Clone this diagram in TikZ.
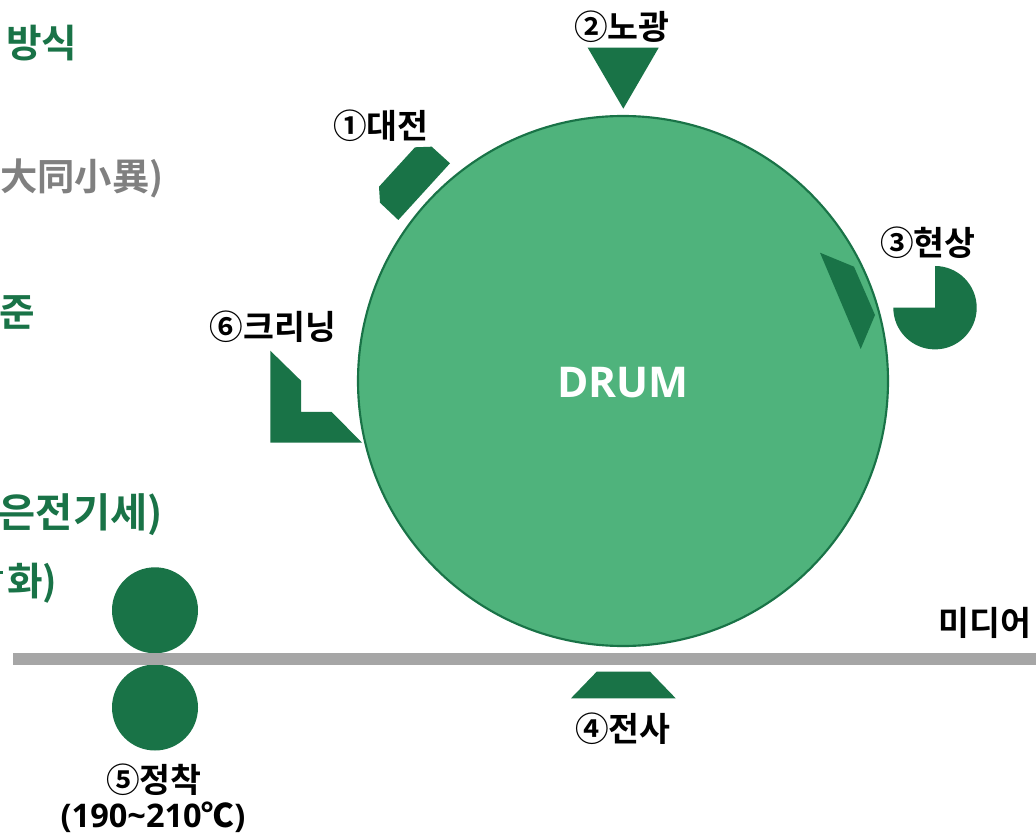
\documentclass[tikz,border=0pt]{standalone}
\usepackage{fontspec}
\setmainfont{Noto Sans CJK KR Bold}
\newfontfamily\latinfont{Open Sans}[BoldFont={* Bold}]
\definecolor{dkgreen}{HTML}{197347}
\definecolor{drumgreen}{HTML}{4FB37C}
\definecolor{mediagray}{HTML}{A6A6A6}
\definecolor{hanjagray}{HTML}{808080}
\tikzset{
  x=0.75pt,y=-0.75pt,
  part/.style={fill=dkgreen,draw=none},
  lab/.style={text=black,font=\fontsize{25.2pt}{27pt}\selectfont,inner sep=0pt,align=center},
  side/.style={text=dkgreen,font=\fontsize{29pt}{31pt}\selectfont,inner sep=0pt,anchor=west},
}
\begin{document}
\begin{tikzpicture}
\useasboundingbox (0,0) rectangle (1036,834);
\clip (0,0) rectangle (1036,834);
\fill[white] (0,0) rectangle (1036,834);
% side text (cropped at the left edge)
\node[side] (t1) at (6,43) {방식};
\node[side,text=hanjagray,font=\fontsize{28pt}{30pt}\selectfont] (t2) at (0,178) {大同小異)};
\node[side] (t3) at (-1,312) {준};
\node[side,font=\fontsize{30.3pt}{32pt}\selectfont] (t4) at (-1.5,515) {은전기세)};
\node[side] (t5) at (7,583) {화)};
\fill[dkgreen] (0,571) rectangle (2.6,574);
% drum
\node[circle,draw=dkgreen,fill=drumgreen,line width=1.6pt,minimum size=397.5pt,inner sep=0pt] (drum) at (623,381) {};
\node[text=white,inner sep=0pt,font=\latinfont\bfseries\fontsize{31.8pt}{33pt}\selectfont] (drumlabel) at (623,383) {DRUM};
% rollers
\node[circle,part,minimum size=64.5pt,inner sep=0pt] (r1) at (155,610.3) {};
\node[circle,part,minimum size=64.5pt,inner sep=0pt] (r2) at (155,707.5) {};
% media
\fill[mediagray] (13.3,652.7) rectangle (1036,665);
% parts
\fill[part] (415,147.3) -- (431.7,146.7) -- (450,163.3) -- (398.3,220) -- (380,202.7) -- (379,186.7) -- cycle;
\fill[part] (587.7,47.7) -- (658.7,47.7) -- (623.3,108.7) -- cycle;
\fill[part] (820,252.7) -- (854,266.7) -- (875,315) -- (860.7,349) -- cycle;
\fill[part] (935,307.7) -- (935,266) arc[start angle=90,end angle=-180,x radius=41.7,y radius=-41.7] -- cycle;
\fill[part] (270.3,350.7) -- (301,380.7) -- (301,412) -- (331.7,412) -- (362,442.7) -- (270.3,442.7) -- cycle;
\fill[part] (596.7,671.7) -- (650,671.7) -- (675.7,698.3) -- (571,698.3) -- cycle;
% labels
\node[lab] (l1) at (381,126) {①대전};
\node[lab] (l2) at (622,27) {②노광};
\node[lab] (l3) at (928,243) {③현상};
\node[lab] (l4) at (623,729) {④전사};
\node[lab] (l5) at (154,780) {⑤정착};
\node[lab,font=\latinfont\bfseries\fontsize{24.4pt}{26pt}\selectfont] (l5b) at (153,817.5) {(190\textasciitilde 210{\fontspec{Noto Sans CJK KR Bold}℃})};
\node[lab] (l6) at (273,327) {⑥크리닝};
\node[lab] (m) at (985,623) {미디어};
\end{tikzpicture}
\end{document}
